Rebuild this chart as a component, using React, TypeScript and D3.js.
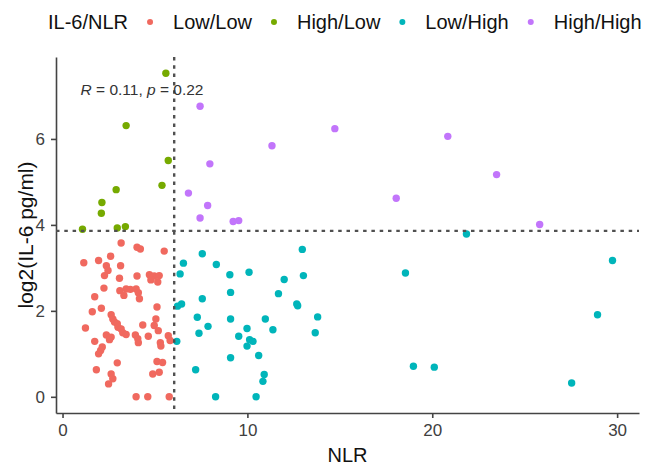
import React, { useEffect, useRef } from 'react';
import * as d3 from 'd3';

// IL-6/NLR groups: x = NLR, y = log2(IL-6 pg/ml)
const lowLowNLR = [3.17, 4.03, 4.21, 5.5, 1.95, 1.15, 2.6, 3.14, 2.37, 2.46, 2.27, 3.08, 4.03, 4.7, 4.96, 5.23, 4.78, 5.15, 2.24, 3.1, 3.44, 3.32, 3.67, 3.98, 4.1, 4.16, 1.74, 2.1, 1.61, 5.11, 2.63, 2.72, 2.81, 2.96, 3.0, 3.17, 3.26, 5.05, 4.34, 1.24, 4.96, 5.18, 2.37, 3.44, 3.94, 4.07, 4.1, 4.64, 5.72, 5.82, 1.74, 2.63, 2.54, 5.29, 5.32, 2.15, 2.06, 1.95, 2.96, 5.11, 5.41, 1.83, 4.88, 5.23, 2.63, 2.72, 2.49, 3.98, 4.61, 5.77];
const lowLowIL6 = [3.58, 3.48, 3.44, 3.39, 3.17, 3.12, 3.27, 3.05, 3.05, 2.94, 2.82, 2.76, 2.81, 2.84, 2.81, 2.82, 2.72, 2.67, 2.53, 2.47, 2.51, 2.36, 2.5, 2.51, 2.42, 2.28, 2.33, 2.06, 1.98, 2.09, 1.91, 1.81, 1.74, 1.7, 1.62, 1.58, 1.49, 1.81, 1.67, 1.6, 1.66, 1.54, 1.44, 1.45, 1.44, 1.35, 1.26, 1.41, 1.42, 1.31, 1.29, 1.39, 1.33, 1.26, 1.18, 1.16, 1.08, 1.0, 0.79, 0.82, 0.8, 0.63, 0.53, 0.57, 0.53, 0.42, 0.3, 0, 0, 0];

const highLowNLR = [5.59, 3.44, 5.72, 5.38, 2.9, 2.13, 2.1, 1.08, 2.96, 3.4];
const highLowIL6 = [7.53, 6.31, 5.5, 4.92, 4.82, 4.52, 4.27, 3.9, 3.93, 3.96];

const lowHighNLR = [12.97, 7.56, 6.54, 8.32, 6.36, 9.05, 10.09, 13.03, 11.99, 9.09, 11.68, 7.56, 12.67, 12.72, 6.44, 6.22, 7.29, 9.09, 10.97, 13.8, 7.87, 9.98, 11.38, 7.38, 13.67, 9.53, 10.12, 10.3, 9.98, 6.18, 10.61, 9.09, 7.2, 10.91, 10.84, 8.28, 10.47, 21.85, 18.55, 29.75, 28.94, 18.98, 20.11, 27.54];
const lowHighIL6 = [3.43, 3.33, 3.11, 3.08, 2.86, 2.84, 2.9, 2.82, 2.73, 2.43, 2.4, 2.28, 2.16, 2.12, 2.16, 2.11, 1.85, 1.81, 1.81, 1.86, 1.64, 1.59, 1.56, 1.48, 1.49, 1.41, 1.33, 1.29, 1.18, 1.29, 0.96, 0.91, 0.63, 0.52, 0.36, 0, 0, 3.79, 2.88, 3.17, 1.91, 0.71, 0.69, 0.32];

const highHighNLR = [7.44, 7.97, 6.81, 7.85, 7.44, 9.23, 9.53, 11.33, 14.73, 18.05, 20.84, 23.48, 25.81];
const highHighIL6 = [6.76, 5.42, 4.74, 4.45, 4.16, 4.08, 4.1, 5.84, 6.24, 4.62, 6.06, 5.17, 4.01];

const groups = ['Low/Low', 'High/Low', 'Low/High', 'High/High'];
const groupColors = ['#F0695F', '#76AA00', '#00B5BA', '#C275FB'];

const xTicks = [0, 10, 20, 30];
const yTicks = [0, 2, 4, 6];
const nlrCutoff = 6.04;
const il6Cutoff = 3.86;
const corrR = '0.11';
const corrP = '0.22';

const App = () => {
    const ref = useRef<SVGSVGElement | null>(null);

    useEffect(() => {
        var svg = d3.select(ref.current);
        svg.selectAll('*').remove();

        var font = 'Liberation Sans, Arial, sans-serif';
        var panel = { left: 56, right: 639, top: 57, bottom: 413 };

        var series = [
            { key: groups[0], xs: lowLowNLR, ys: lowLowIL6 },
            { key: groups[1], xs: highLowNLR, ys: highLowIL6 },
            { key: groups[2], xs: lowHighNLR, ys: lowHighIL6 },
            { key: groups[3], xs: highHighNLR, ys: highHighIL6 },
        ];
        var data: { x: number; y: number; g: string }[] = [];
        series.forEach(s => s.xs.forEach((v, i) => data.push({ x: v, y: s.ys[i], g: s.key })));

        var color = d3.scaleOrdinal<string, string>().domain(groups).range(groupColors);

        // ggplot style 5% expansion
        var xExt = d3.extent(data, d => d.x) as [number, number];
        var yExt = d3.extent(data, d => d.y) as [number, number];
        var xPad = (xExt[1] - xExt[0]) * 0.05;
        var yPad = (yExt[1] - yExt[0]) * 0.05;

        var x = d3.scaleLinear().domain([xExt[0] - xPad, xExt[1] + xPad]).range([panel.left, panel.right]);
        var y = d3.scaleLinear().domain([yExt[0] - yPad, yExt[1] + yPad]).range([panel.bottom, panel.top]);

        //////////
        // AXES //
        //////////

        var xAxis = svg.append('g')
            .attr('transform', 'translate(0,' + panel.bottom + ')')
            .call(d3.axisBottom(x).tickValues(xTicks).tickSize(5).tickSizeOuter(0).tickPadding(6));
        var yAxis = svg.append('g')
            .attr('transform', 'translate(' + panel.left + ',0)')
            .call(d3.axisLeft(y).tickValues(yTicks).tickSize(5).tickSizeOuter(0).tickPadding(6));

        [xAxis, yAxis].forEach(a => {
            a.select('.domain').attr('stroke', '#444').attr('stroke-width', 1.6);
            a.selectAll('.tick line').attr('stroke', '#444').attr('stroke-width', 1.6);
            a.selectAll('.tick text')
                .attr('fill', '#404040')
                .style('font-family', font)
                .style('font-size', '17px');
        });

        svg.append('text')
            .attr('x', (panel.left + panel.right) / 2)
            .attr('y', 455)
            .attr('text-anchor', 'middle')
            .attr('dominant-baseline', 'central')
            .style('font-family', font)
            .style('font-size', '20px')
            .attr('fill', '#111')
            .text('NLR');

        svg.append('text')
            .attr('transform', 'translate(25,' + (panel.top + panel.bottom) / 2 + ') rotate(-90)')
            .attr('text-anchor', 'middle')
            .attr('dominant-baseline', 'central')
            .style('font-family', font)
            .style('font-size', '21px')
            .attr('fill', '#111')
            .text('log2(IL-6 pg/ml)');

        ////////////
        // POINTS //
        ////////////

        svg.append('g')
            .selectAll('circle')
            .data(data)
            .enter()
            .append('circle')
            .attr('cx', d => x(d.x))
            .attr('cy', d => y(d.y))
            .attr('r', 3.7)
            .attr('fill', d => color(d.g));

        // cutoff lines
        svg.append('line')
            .attr('x1', x(nlrCutoff)).attr('x2', x(nlrCutoff))
            .attr('y1', panel.top).attr('y2', panel.bottom)
            .attr('stroke', '#505050').attr('stroke-width', 2.4)
            .attr('stroke-dasharray', '3.5,4.8');
        svg.append('line')
            .attr('x1', panel.left).attr('x2', panel.right)
            .attr('y1', y(il6Cutoff)).attr('y2', y(il6Cutoff))
            .attr('stroke', '#505050').attr('stroke-width', 2.4)
            .attr('stroke-dasharray', '3.5,4.8');

        // correlation label
        var label = svg.append('text')
            .attr('x', 142)
            .attr('y', 89)
            .attr('text-anchor', 'middle')
            .attr('dominant-baseline', 'central')
            .style('font-family', font)
            .style('font-size', '15.5px')
            .attr('fill', '#333');
        label.append('tspan').style('font-style', 'italic').text('R');
        label.append('tspan').text(' = ' + corrR + ', ');
        label.append('tspan').style('font-style', 'italic').text('p');
        label.append('tspan').text(' = ' + corrP);

        ////////////
        // LEGEND //
        ////////////

        var legendY = 22;
        var title = svg.append('text')
            .attr('x', 48)
            .attr('y', legendY)
            .attr('dominant-baseline', 'central')
            .style('font-family', font)
            .style('font-size', '20px')
            .attr('fill', '#111')
            .text('IL-6/NLR');
        var cursor = 48 + (title.node() as SVGTextElement).getComputedTextLength();

        groups.forEach(g => {
            var dotX = cursor + 22;
            svg.append('circle')
                .attr('cx', dotX)
                .attr('cy', legendY)
                .attr('r', 3)
                .attr('fill', color(g));
            var t = svg.append('text')
                .attr('x', dotX + 23)
                .attr('y', legendY)
                .attr('dominant-baseline', 'central')
                .style('font-family', font)
                .style('font-size', '20px')
                .attr('fill', '#111')
                .text(g);
            cursor = dotX + 23 + (t.node() as SVGTextElement).getComputedTextLength();
        });
    }, []);

    return (
        <svg ref={ref} width={647} height={469}
            style={{ position: 'absolute', left: 0, top: 0, background: '#fff' }} />
    );
};

export default App;
